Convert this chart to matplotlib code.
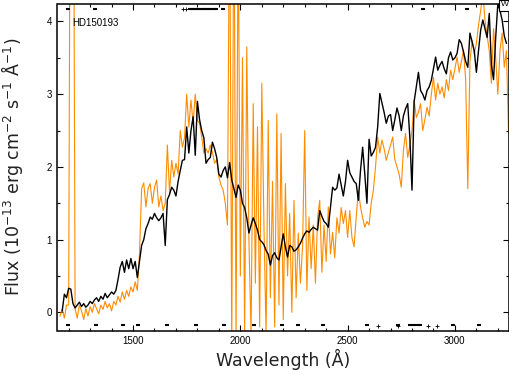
import numpy as np
import matplotlib
matplotlib.use("Agg")
import matplotlib.pyplot as plt
from matplotlib.ticker import MultipleLocator
from matplotlib.patches import Rectangle

# ------------------------------ dane ------------------------------

star_name = "HD150193"

# czarne widmo (wygladzone), siatka co 10 A
black_wave = np.arange(1170, 3241, 10)
black_flux = [
    0.02, 0.25, 0.20, 0.33, 0.32, 0.12, 0.06, 0.10, 0.14, 0.08,   # 1170-1260
    0.12, 0.07, 0.10, 0.15, 0.12, 0.17, 0.20, 0.15, 0.22, 0.18,   # 1270-1360
    0.26, 0.20, 0.24, 0.28, 0.25, 0.30, 0.45, 0.62, 0.70, 0.55,   # 1370-1460
    0.72, 0.60, 0.74, 0.60, 0.70, 0.48, 0.70, 0.92, 1.00, 1.15,   # 1470-1560
    1.22, 1.31, 1.28, 1.36, 1.30, 1.26, 1.30, 1.36, 0.92, 1.55,   # 1570-1660
    1.62, 1.72, 1.68, 1.60, 1.80, 1.95, 2.09, 2.10, 2.55, 2.19,   # 1670-1760
    2.50, 2.69, 2.16, 2.90, 2.65, 2.50, 2.40, 2.05, 2.10, 2.13,   # 1770-1860
    2.34, 2.25, 2.13, 1.90, 1.86, 1.95, 2.00, 1.85, 2.06, 1.82,   # 1870-1960
    1.70, 1.58, 1.75, 1.68, 1.50, 1.44, 1.30, 1.09, 1.20, 1.30,   # 1970-2060
    1.22, 1.13, 1.00, 0.97, 0.93, 0.85, 0.80, 0.65, 0.78, 0.82,   # 2070-2160
    0.75, 0.72, 0.90, 1.08, 0.90, 0.76, 0.92, 0.90, 0.84, 0.86,   # 2170-2260
    0.90, 0.95, 1.02, 1.08, 1.12, 1.10, 1.14, 1.17, 1.15, 1.13,   # 2270-2360
    1.40, 1.32, 1.25, 1.22, 1.17, 1.45, 1.72, 1.68, 1.71, 1.90,   # 2370-2460
    1.75, 1.60, 1.80, 2.09, 1.92, 1.86, 1.80, 1.77, 1.54, 1.95,   # 2470-2560
    2.27, 1.90, 1.50, 2.38, 2.15, 2.20, 2.27, 2.55, 3.01, 2.88,   # 2570-2660
    2.75, 2.60, 2.70, 2.72, 2.50, 2.65, 2.81, 2.70, 2.50, 2.70,   # 2670-2760
    2.80, 2.87, 2.40, 1.68, 2.90, 3.10, 3.30, 3.05, 3.00, 2.92,   # 2770-2860
    3.05, 3.10, 3.19, 3.35, 3.51, 3.33, 3.40, 3.45, 3.35, 3.28,   # 2870-2960
    3.50, 3.58, 3.47, 3.50, 3.56, 3.75, 3.70, 3.58, 3.45, 3.37,   # 2970-3060
    3.84, 3.72, 3.60, 3.30, 3.60, 3.88, 4.02, 3.90, 3.78, 4.11,   # 3070-3160
    3.40, 3.20, 3.78, 4.25, 4.15, 4.02, 3.80, 3.70,               # 3170-3240
]

# pomaranczowe widmo (surowe), siatka co 10 A
orange_wave = np.arange(1160, 3251, 10)
orange_flux = [
    -0.05, 0.05, -0.08, 0.10, 0.10, 9.00, 9.00, 0.05, -0.08, 0.10,   # 1160-1250
    0.02, -0.10, 0.05, -0.05, 0.08, 0.00, 0.12, 0.05, -0.02, 0.10,   # 1260-1350
    0.04, 0.15, 0.06, 0.12, 0.02, 0.15, 0.10, 0.22, 0.14, 0.28,      # 1360-1450
    0.18, 0.30, 0.22, 0.35, 0.28, 0.42, 0.30, 0.80, 1.70, 1.78,      # 1460-1550
    1.45, 1.70, 1.77, 1.50, 1.72, 1.82, 1.45, 1.60, 1.40, 1.50,      # 1560-1650
    2.30, 1.65, 2.09, 1.86, 2.05, 1.90, 2.50, 2.27, 2.40, 3.00,      # 1660-1750
    2.55, 2.92, 2.60, 3.00, 2.64, 2.60, 2.41, 2.19, 2.25, 2.19,      # 1760-1850
    2.30, 2.20, 2.05, 2.10, 1.86, 1.75, 1.68, 1.50, 1.20, 6.00,      # 1860-1950
    -0.50, 6.00, -0.40, 5.50, 0.50, 3.50, -0.30, 3.65, 1.00, -0.30,  # 1960-2050
    2.87, 0.40, 2.55, -0.20, 3.15, 1.20, -0.30, 2.64, 0.20, 1.80,    # 2060-2150
    -0.20, 2.73, 0.10, 2.46, -0.10, 1.77, 0.50, 1.36, 0.00, 1.54,    # 2160-2250
    0.20, 1.09, 0.40, 0.90, 2.50, 0.30, 1.31, 0.60, 1.20, 0.40,      # 2260-2350
    1.30, 1.54, 0.55, 1.20, 0.70, 1.45, 0.80, 1.10, 0.75, 1.30,      # 2360-2450
    1.09, 1.44, 1.22, 1.40, 1.03, 1.40, 1.03, 0.90, 1.31, 1.68,      # 2460-2550
    1.45, 1.30, 1.17, 1.25, 1.20, 1.50, 1.68, 2.00, 2.41, 2.19,      # 2560-2650
    2.37, 2.25, 2.09, 2.20, 2.30, 2.41, 2.10, 2.00, 1.90, 1.72,      # 2660-2750
    2.23, 2.46, 2.13, 2.30, 2.50, 2.92, 2.68, 2.75, 2.87, 2.50,      # 2760-2850
    2.65, 2.82, 2.70, 3.00, 3.23, 2.92, 3.15, 3.00, 3.10, 2.95,      # 2860-2950
    3.20, 3.05, 3.33, 3.20, 3.35, 3.51, 3.30, 3.45, 3.60, 3.20,      # 2960-3050
    1.70, 3.45, 3.74, 3.55, 3.70, 3.95, 4.15, 4.40, 4.02, 3.80,      # 3060-3150
    3.60, 3.15, 3.90, 3.50, 3.00, 3.60, 3.84, 3.37, 3.60, 2.46,      # 3160-3250
]

# znaczniki jakosci (flagi) na gorze i na dole wykresu
top_flags_dash = [1197, 1323, 1766, 1775, 1785, 1795, 1805, 1815, 1825, 1835,
                  1845, 1855, 1865, 1875, 1885, 1919, 2851, 3056]
top_flags_plus = [1733, 1747]
bottom_flags_dash = [1197, 1328, 1453, 1523, 1658, 1794, 1924, 2064, 2194, 2269,
                     2385, 2590, 2735, 2791, 2805, 2820, 2837, 2991, 3112]
bottom_flags_plus = [2642, 2735, 2875, 2917]

# ------------------------------ wykres ------------------------------

fig = plt.figure(figsize=(5.1, 3.75), dpi=100)
ax = fig.add_axes([57.5 / 510, 1 - 330.5 / 375, (509 - 57.5) / 510, (330.5 - 4) / 375])

ax.plot(orange_wave, orange_flux, color="#ff8c00", lw=0.8, zorder=2)
ax.plot(black_wave, black_flux, color="black", lw=1.0, zorder=3)

# flagi
ax.plot(top_flags_dash, [4.17] * len(top_flags_dash), ls="none", marker="_",
        ms=3, mew=1.5, color="black", zorder=4)
ax.plot(top_flags_plus, [4.17] * len(top_flags_plus), ls="none", marker="+",
        ms=3, mew=0.6, color="black", zorder=4)
ax.plot(bottom_flags_dash, [-0.18] * len(bottom_flags_dash), ls="none", marker="_",
        ms=3, mew=1.5, color="black", zorder=4)
ax.plot(bottom_flags_plus, [-0.19] * len(bottom_flags_plus), ls="none", marker="+",
        ms=3, mew=0.6, color="black", zorder=4)

ax.set_xlim(1148, 3252)
ax.set_ylim(-0.25, 4.24)

ax.xaxis.set_major_locator(MultipleLocator(500))
ax.xaxis.set_minor_locator(MultipleLocator(100))
ax.yaxis.set_major_locator(MultipleLocator(1))
ax.yaxis.set_minor_locator(MultipleLocator(0.5))
ax.tick_params(which="both", direction="in", top=True, right=True,
               labelsize=7, width=0.8, pad=4)
ax.tick_params(which="major", length=4)
ax.tick_params(which="minor", length=2.5)
for lab in ax.get_xticklabels() + ax.get_yticklabels():
    lab.set_family(["Liberation Sans", "DejaVu Sans"])
for sp in ax.spines.values():
    sp.set_linewidth(1.1)

label_font = dict(family=["DejaVu Sans"], fontsize=12.5, color="#222222")
ax.set_xlabel("Wavelength (Å)", **label_font)
ax.set_ylabel(r"Flux (10$\mathregular{^{-13}}$ erg cm$\mathregular{^{-2}}$ "
              r"s$\mathregular{^{-1}}$ Å$\mathregular{^{-1}}$)", **label_font)
ax.xaxis.set_label_coords(0.5, -0.055)
ax.yaxis.set_label_coords(-0.072, 0.5)

fig.text(72 / 510, 1 - 23 / 375, star_name, fontsize=7,
         family=["Liberation Sans", "DejaVu Sans"], va="center")

# ramka z "W" w prawym gornym rogu
fig.patches.append(Rectangle((499 / 510, 1 - 11 / 375), 11 / 510, 11 / 375,
                             transform=fig.transFigure, fill=True, fc="white",
                             ec="black", lw=0.8, zorder=10))
fig.text(504.5 / 510, 1 - 4 / 375, "W", fontsize=6, ha="center", va="center",
         family=["Liberation Sans", "DejaVu Sans"], zorder=11)

fig.savefig("out.png", dpi=100)
